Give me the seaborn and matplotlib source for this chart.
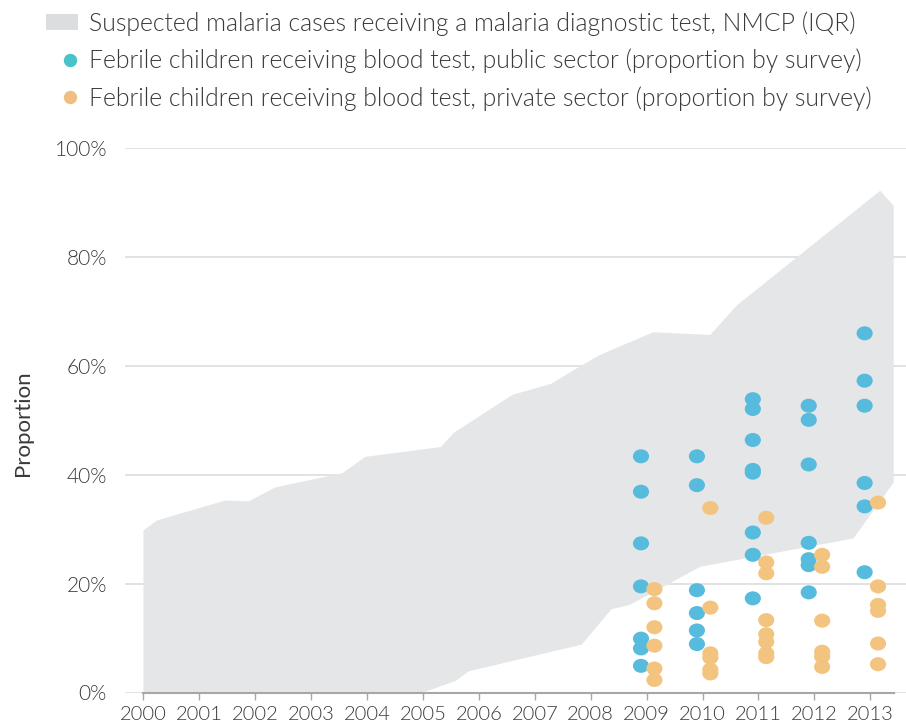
import pandas as pd
import numpy as np
import matplotlib
matplotlib.use('Agg')
import matplotlib.pyplot as plt
from matplotlib.patches import Patch
from matplotlib.lines import Line2D
from matplotlib.legend_handler import HandlerLine2D
from matplotlib.markers import MarkerStyle
from matplotlib.transforms import Affine2D
import seaborn as sns

# IQR band (NMCP): upper and lower edges
band_upper_year = [2000.0, 2000.24, 2001.47, 2001.88, 2002.36, 2003.56, 2003.97, 2005.32,
                   2005.55, 2006.6, 2007.29, 2007.84, 2008.16, 2009.12, 2010.14, 2010.61,
                   2013.18, 2013.42]
band_upper = [29.8, 31.6, 35.3, 35.1, 37.7, 40.3, 43.3, 45.1,
              47.7, 54.7, 56.7, 60.1, 62.0, 66.2, 65.7, 71.1,
              92.2, 89.4]
band_lower_year = [2000.0, 2005.0, 2005.58, 2005.82, 2007.84, 2008.37, 2008.7, 2009.96,
                   2012.7, 2013.42]
band_lower = [0.0, 0.0, 2.1, 3.9, 8.8, 15.3, 16.1, 23.1, 28.3, 38.6]

# survey points
public_2009 = [43.4, 36.9, 27.4, 19.5, 9.9, 8.1, 4.9]
public_2010 = [43.4, 38.1, 18.8, 14.6, 11.4, 8.9]
public_2011 = [53.9, 52.1, 46.4, 40.9, 40.4, 29.4, 25.3, 17.3]
public_2012 = [52.7, 50.1, 41.9, 27.5, 24.5, 23.4, 18.4]
public_2013 = [66.0, 57.3, 52.7, 38.5, 34.2, 22.1]

private_2009 = [19.0, 16.4, 12.0, 8.6, 4.4, 2.3]
private_2010 = [33.9, 15.6, 7.2, 6.4, 4.2, 3.5]
private_2011 = [32.1, 23.9, 21.9, 13.3, 10.7, 9.3, 7.2, 6.5]
private_2012 = [25.3, 23.1, 13.2, 7.5, 6.6, 4.7]
private_2013 = [34.9, 19.5, 16.1, 15.0, 9.0, 5.2]

years = [2000, 2001, 2002, 2003, 2004, 2005, 2006, 2007, 2008, 2009, 2010, 2011, 2012, 2013]
y_ticks = [0, 20, 40, 60, 80, 100]
y_tick_labels = ['0%', '20%', '40%', '60%', '80%', '100%']

legend_labels = ['Suspected malaria cases receiving a malaria diagnostic test, NMCP (IQR)',
                 'Febrile children receiving blood test, public sector (proportion by survey)',
                 'Febrile children receiving blood test, private sector (proportion by survey)']

# build long table
rows = []
for yr, vals in zip([2009, 2010, 2011, 2012, 2013],
                    [public_2009, public_2010, public_2011, public_2012, public_2013]):
    for v in vals:
        rows.append({'year': yr, 'value': v, 'sector': 'public'})
for yr, vals in zip([2009, 2010, 2011, 2012, 2013],
                    [private_2009, private_2010, private_2011, private_2012, private_2013]):
    for v in vals:
        rows.append({'year': yr, 'value': v, 'sector': 'private'})
df = pd.DataFrame(rows)
offsets = {'public': -0.10, 'private': 0.14}
df['x'] = df['year'] + df['sector'].map(offsets)

# style
sns.set_theme(style="white")
plt.rcParams['font.family'] = ['Lato', 'DejaVu Sans']
plt.rcParams['font.weight'] = 300

GREY_BAND = '#e5e6e8'
BLUE = '#56bbdd'
ORANGE = '#f3c47f'
TEXT = '#3a3a3a'

fig = plt.figure(figsize=(9.06, 7.28), dpi=100)
ax = fig.add_axes([125 / 906, 1 - 692.5 / 728, 781 / 906, (692.5 - 148.3) / 728])

# band polygon: upper edge forward, lower edge back
poly_x = band_upper_year + band_lower_year[::-1]
poly_y = band_upper + band_lower[::-1]
ax.fill(poly_x, poly_y, color=GREY_BAND, lw=0, zorder=1)

dot = MarkerStyle('o', transform=Affine2D().scale(1.0, 0.87))
sns.scatterplot(data=df, x='x', y='value', hue='sector',
                palette={'public': BLUE, 'private': ORANGE},
                marker=dot, s=135, linewidth=0, legend=False,
                clip_on=False, zorder=3, ax=ax)

ax.set_xlim(1999.67, 2013.64)
ax.set_ylim(0, 100)
ax.set_xticks(years)
ax.set_xticklabels([str(y) for y in years])
ax.set_yticks(y_ticks)
ax.set_yticklabels(y_tick_labels)
ax.set_xlabel('')
ax.set_ylabel('Proportion', fontsize=16, color=TEXT)
ax.yaxis.set_label_coords(-0.118, 0.494)

ax.grid(axis='y', color='#dddddd', lw=1.2, zorder=0)
ax.grid(axis='x', visible=False)
ax.set_axisbelow(True)
for s in ['top', 'right', 'left']:
    ax.spines[s].set_visible(False)
ax.spines['bottom'].set_color('#a7a7a7')
ax.spines['bottom'].set_linewidth(1.5)
ax.spines['bottom'].set_bounds(2000, 2013.42)
ax.spines['bottom'].set_zorder(2)

ax.tick_params(axis='x', length=5, width=1, color='#a7a7a7', pad=5,
               labelsize=14.5, labelcolor=TEXT, bottom=True)
ax.tick_params(axis='y', length=0, pad=13, labelsize=15, labelcolor=TEXT)

handles = [Patch(facecolor='#dcdddf', edgecolor='none'),
           Line2D([], [], marker='o', linestyle='', color='#47c3c9', markersize=8.6),
           Line2D([], [], marker='o', linestyle='', color='#eebf80', markersize=8.6)]
fs_leg = 17.8
leg = fig.legend(handles, legend_labels, loc='upper left',
                 bbox_to_anchor=(46 / 906, 1 - 11 / 728), frameon=False,
                 fontsize=fs_leg, labelcolor=TEXT, handlelength=1.3, handleheight=0.57,
                 handletextpad=0.45, labelspacing=0.52, borderpad=0, borderaxespad=0,
                 handler_map={Line2D: HandlerLine2D(xpad=0.65)})

fig.savefig('out.png', dpi=100)
